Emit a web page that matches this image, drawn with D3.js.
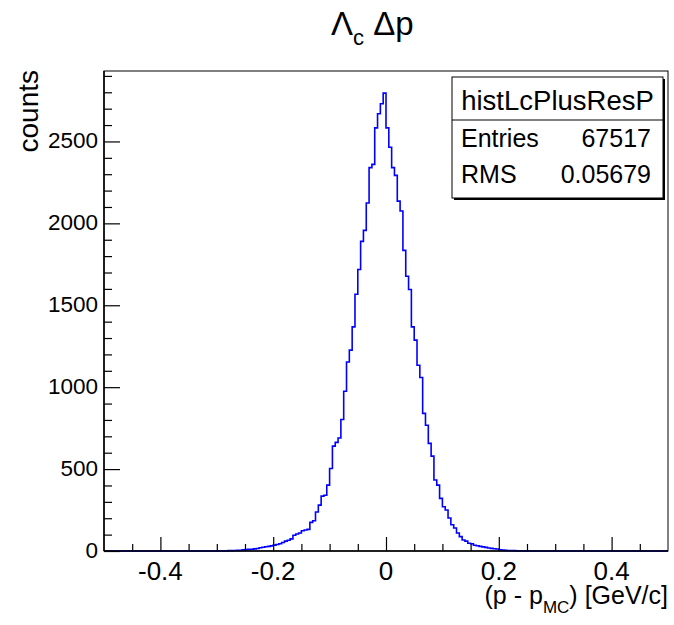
<!DOCTYPE html>
<html>
<head>
<meta charset="utf-8">
<script src="https://cdn.jsdelivr.net/npm/d3@7"></script>
<style>
  body { margin: 0; background: #fff; }
  text { font-family: "Liberation Sans", Arial, Helvetica, sans-serif; fill: #000; }
</style>
</head>
<body>
<script>
// histogram definition: 200 bins from -0.5 to 0.5
const xMin = -0.5;
const xMax = 0.5;
const nBins = 200;

// bin contents (left to right)
const counts = [
  0, 0, 0, 0, 0, 0, 0, 0, 0, 0, 0, 0, 0, 0, 0, 0, 0, 0, 0, 0,
  0, 0, 0, 0, 0, 0, 0, 0, 0, 0, 0, 0, 0, 0, 0, 0, 0, 0, 0, 0,
  1, 0, 1, 1, 2, 2, 3, 4, 5, 7, 9, 10, 11, 13, 15, 20, 23, 26, 28, 31,
  36, 40, 44, 52, 60, 66, 74, 96, 104, 110, 124, 128, 132, 175, 185, 238, 280, 335, 340, 402,
  504, 640, 663, 690, 803, 975, 1154, 1226, 1368, 1567, 1718, 1890, 1957, 2124, 2340, 2360, 2583, 2669, 2730, 2795,
  2583, 2465, 2340, 2293, 2136, 2075, 1835, 1677, 1596, 1368, 1287, 1134, 1059, 840, 768, 657, 579, 433, 402, 321,
  270, 250, 201, 160, 140, 110, 88, 67, 60, 47, 44, 35, 32, 28, 25, 22, 18, 16, 14, 12,
  8, 6, 4, 3, 2, 2, 1, 1, 0, 1, 0, 0, 0, 0, 0, 0, 0, 0, 0, 0,
  0, 0, 0, 0, 0, 0, 0, 0, 0, 0, 0, 0, 0, 0, 0, 0, 0, 0, 0, 0,
  0, 0, 0, 0, 0, 0, 0, 0, 0, 0, 0, 0, 0, 0, 0, 0, 0, 0, 0, 0
];

// axis ticks
const xMajor = [-0.4, -0.2, 0, 0.2, 0.4];
const xLabels = ["-0.4", "-0.2", "0", "0.2", "0.4"];
const xMinor = [-0.45, -0.35, -0.3, -0.25, -0.15, -0.1, -0.05, 0.05, 0.1, 0.15, 0.25, 0.3, 0.35, 0.45];
const yMajor = [0, 500, 1000, 1500, 2000, 2500];
const yMinor = [100, 200, 300, 400, 600, 700, 800, 900, 1100, 1200, 1300, 1400, 1600, 1700, 1800, 1900, 2100, 2200, 2300, 2400, 2600, 2700, 2800, 2900];
const yMaxValue = 2930;

// stats box
const statsName = "histLcPlusResP";
const statsRows = [["Entries", "67517"], ["RMS", "0.05679"]];

const w = 674;
const h = 625;
const padL = 104, padR = 668, padT = 71, padB = 551;

const xScale = d3.scaleLinear().domain([xMin, xMax]).range([padL, padR]);
const yScale = d3.scaleLinear().domain([0, yMaxValue]).range([padB, padT]);

const svg = d3.select('body')
  .append('svg')
  .attr('width', w)
  .attr('height', h);

// frame
svg.append('rect')
  .attr('x', padL).attr('y', padT)
  .attr('width', padR - padL).attr('height', padB - padT)
  .attr('fill', 'none')
  .attr('stroke', '#000')
  .attr('stroke-width', 1);

// histogram outline
const binW = (xMax - xMin) / nBins;
const pts = counts.map((c, i) => [xMin + i * binW, c]);
pts.push([xMax, counts[counts.length - 1]]);
const line = d3.line()
  .x(d => xScale(d[0]))
  .y(d => yScale(d[1]))
  .curve(d3.curveStepAfter);

svg.append('path')
  .datum(pts)
  .attr('d', line)
  .attr('fill', 'none')
  .attr('stroke', '#0000ff')
  .attr('stroke-width', 1.6);

// x axis: ticks point up into the frame
const xAxisMajor = d3.axisTop(xScale).tickValues(xMajor).tickSize(14).tickFormat('');
const xAxisMinor = d3.axisTop(xScale).tickValues(xMinor).tickSize(7).tickFormat('');
svg.append('g').attr('transform', `translate(0, ${padB})`).call(xAxisMajor);
svg.append('g').attr('transform', `translate(0, ${padB})`).call(xAxisMinor);

// y axis: ticks point right into the frame
const yAxisMajor = d3.axisRight(yScale).tickValues(yMajor).tickSize(16).tickFormat('');
const yAxisMinor = d3.axisRight(yScale).tickValues(yMinor).tickSize(8).tickFormat('');
svg.append('g').attr('transform', `translate(${padL}, 0)`).call(yAxisMajor);
svg.append('g').attr('transform', `translate(${padL}, 0)`).call(yAxisMinor);

svg.selectAll('.domain').remove();
svg.selectAll('.tick line').attr('stroke', '#000').attr('stroke-width', 1.2);

// axis lines
svg.append('line').attr('x1', padL).attr('x2', padR).attr('y1', padB).attr('y2', padB)
  .attr('stroke', '#000').attr('stroke-width', 1.5);
svg.append('line').attr('x1', padL).attr('x2', padL).attr('y1', padT).attr('y2', padB)
  .attr('stroke', '#000').attr('stroke-width', 1.5);

// tick labels
svg.selectAll('.xlab')
  .data(xMajor)
  .enter()
  .append('text')
  .attr('x', d => xScale(d))
  .attr('y', 580)
  .attr('text-anchor', 'middle')
  .style('font-size', '26px')
  .text((d, i) => xLabels[i]);

svg.selectAll('.ylab')
  .data(yMajor)
  .enter()
  .append('text')
  .attr('x', 98)
  .attr('y', d => yScale(d) + 7)
  .attr('text-anchor', 'end')
  .style('font-size', '22.5px')
  .text(d => d);

// axis titles
svg.append('text')
  .attr('transform', 'translate(38, 70) rotate(-90)')
  .attr('text-anchor', 'end')
  .style('font-size', '28px')
  .text('counts');

const xt = svg.append('text')
  .attr('x', padR)
  .attr('y', 604)
  .attr('text-anchor', 'end')
  .style('font-size', '25px');
xt.append('tspan').text('(p - p');
xt.append('tspan').attr('dy', 9).style('font-size', '17px').text('MC');
xt.append('tspan').attr('dy', -9).text(') [GeV/c]');

// title
const title = svg.append('text')
  .attr('x', 331)
  .attr('y', 35)
  .style('font-size', '33px');
title.append('tspan').text('\u039B');
title.append('tspan').attr('dy', 10).style('font-size', '22px').text('c');
title.append('tspan').attr('dy', -10).text(' \u0394p');

// stats box
const sx = 452, sy = 77, sw = 211, sh = 121, sep = 120;
svg.append('rect')
  .attr('x', sx + 2).attr('y', sy + 2).attr('width', sw).attr('height', sh)
  .attr('fill', '#000');
svg.append('rect')
  .attr('x', sx).attr('y', sy).attr('width', sw).attr('height', sh)
  .attr('fill', '#fff').attr('stroke', '#000').attr('stroke-width', 1);
svg.append('line')
  .attr('x1', sx).attr('x2', sx + sw).attr('y1', sep).attr('y2', sep)
  .attr('stroke', '#000').attr('stroke-width', 1);
svg.append('text')
  .attr('x', sx + sw / 2).attr('y', 110)
  .attr('text-anchor', 'middle')
  .style('font-size', '27.5px')
  .text(statsName);
statsRows.forEach((r, i) => {
  svg.append('text').attr('x', 461).attr('y', 147 + i * 36)
    .style('font-size', '25px').text(r[0]);
  svg.append('text').attr('x', 651).attr('y', 147 + i * 36)
    .attr('text-anchor', 'end')
    .style('font-size', '25px').text(r[1]);
});
</script>
</body>
</html>
